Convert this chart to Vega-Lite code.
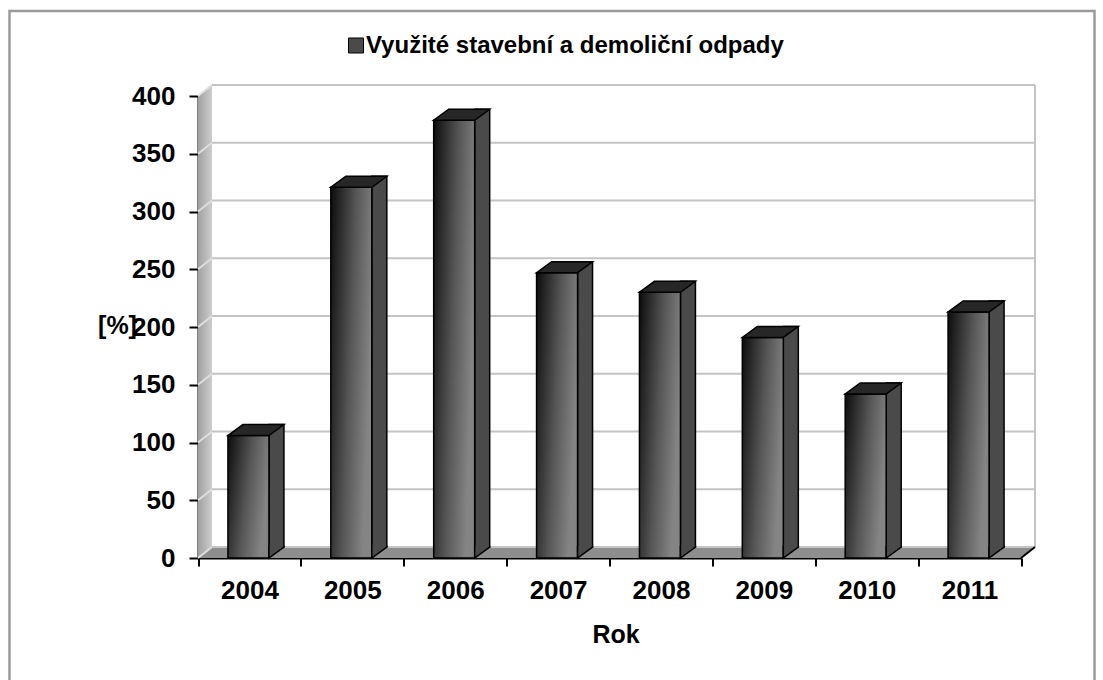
{
  "$schema": "https://vega.github.io/schema/vega-lite/v6.json",
  "width": 1085,
  "height": 671,
  "autosize": {"type": "none"},
  "padding": {"left": 9.5, "top": 11, "right": 8.5, "bottom": -2},
  "background": "white",
  "config": {
    "view": {"stroke": "#9a9a9a", "strokeWidth": 2.5},
    "font": "Liberation Sans",
    "axis": {
      "labelFont": "Liberation Sans",
      "labelFontSize": 26,
      "labelFontWeight": "bold",
      "labelColor": "black",
      "titleFont": "Liberation Sans",
      "titleFontSize": 25,
      "titleFontWeight": "bold",
      "titleColor": "black",
      "domainColor": "black",
      "domainWidth": 2,
      "tickColor": "black",
      "tickWidth": 2,
      "grid": false
    }
  },
  "datasets": {
    "recycled": [
      {"year": "2004", "value": 106},
      {"year": "2005", "value": 321},
      {"year": "2006", "value": 379},
      {"year": "2007", "value": 247},
      {"year": "2008", "value": 230},
      {"year": "2009", "value": 191},
      {"year": "2010", "value": 142},
      {"year": "2011", "value": 213}
    ],
    "levels": [
      {"level": 0}, {"level": 50}, {"level": 100}, {"level": 150}, {"level": 200},
      {"level": 250}, {"level": 300}, {"level": 350}, {"level": 400}
    ],
    "frame": [{"part": "walls"}]
  },
  "layer": [
    {
      "data": {"name": "frame"},
      "mark": {
        "type": "point",
        "shape": "M0,0 L0,-462 L14,-473 L14,-11 Z",
        "size": 4,
        "filled": true,
        "opacity": 1,
        "strokeWidth": 0,
        "fill": {"gradient": "linear", "x1": 0, "y1": 0, "x2": 1, "y2": 0,
                 "stops": [{"offset": 0, "color": "#a0a0a0"}, {"offset": 1, "color": "#cdcdcd"}]}
      },
      "encoding": {
        "x": {
          "datum": "2004", "type": "nominal", "bandPosition": 0,
          "scale": {
            "domain": ["2004", "2005", "2006", "2007", "2008", "2009", "2010", "2011"],
            "range": [188.5, 1011.5],
            "paddingInner": 0,
            "paddingOuter": 0
          },
          "axis": {
            "title": "Rok",
            "orient": "bottom",
            "offset": -124,
            "tickBand": "extent",
            "tickSize": 8,
            "labelPadding": 11,
            "labelAngle": 0,
            "titleX": 606,
            "titleY": 84,
            "titleAlign": "center",
            "titleBaseline": "alphabetic"
          }
        },
        "y": {
          "datum": 0, "type": "quantitative",
          "scale": {"domain": [0, 400], "range": [547, 85], "nice": false},
          "axis": {
            "title": "[%]",
            "orient": "left",
            "offset": -188.5,
            "values": [0, 50, 100, 150, 200, 250, 300, 350, 400],
            "tickSize": 9,
            "labelPadding": 14,
            "titleAngle": 0,
            "titleX": -81,
            "titleY": 314,
            "titleAlign": "center",
            "titleBaseline": "middle"
          }
        }
      }
    },
    {
      "data": {"name": "frame"},
      "mark": {"type": "point", "shape": "M0,0 L823,0 L837,-11 L14,-11 Z", "size": 4,
               "filled": true, "opacity": 1, "strokeWidth": 0, "fill": "#8e8e8e"},
      "encoding": {
        "x": {"datum": "2004", "type": "nominal", "bandPosition": 0},
        "y": {"datum": 0, "type": "quantitative"}
      }
    },
    {
      "data": {"name": "levels"},
      "mark": {"type": "point", "shape": "M0,0 L14,-11", "size": 4, "filled": false,
               "opacity": 1, "stroke": "#dedede", "strokeWidth": 2},
      "encoding": {
        "x": {"datum": "2004", "type": "nominal", "bandPosition": 0},
        "y": {"field": "level", "type": "quantitative"}
      }
    },
    {
      "data": {"name": "levels"},
      "mark": {"type": "point", "shape": "M14,-11 L837,-11", "size": 4, "filled": false,
               "opacity": 1, "stroke": "#c4c4c4", "strokeWidth": 2},
      "encoding": {
        "x": {"datum": "2004", "type": "nominal", "bandPosition": 0},
        "y": {"field": "level", "type": "quantitative"}
      }
    },
    {
      "data": {"name": "frame"},
      "mark": {"type": "point", "shape": "M837,-11 L837,-473", "size": 4, "filled": false,
               "opacity": 1, "stroke": "#c4c4c4", "strokeWidth": 2},
      "encoding": {
        "x": {"datum": "2004", "type": "nominal", "bandPosition": 0},
        "y": {"datum": 0, "type": "quantitative"}
      }
    },
    {
      "data": {"name": "frame"},
      "mark": {"type": "point", "shape": "M823,0 L837,-11", "size": 4, "filled": false,
               "opacity": 1, "stroke": "black", "strokeWidth": 2},
      "encoding": {
        "x": {"datum": "2004", "type": "nominal", "bandPosition": 0},
        "y": {"datum": 0, "type": "quantitative"}
      }
    },
    {
      "data": {"name": "recycled"},
      "mark": {"type": "bar", "width": 15, "xOffset": 27, "yOffset": -11, "y2Offset": -11,
               "fill": "#4a4a4a", "stroke": "black", "strokeWidth": 1.5},
      "encoding": {
        "x": {"field": "year", "type": "nominal"},
        "y": {"field": "value", "type": "quantitative"},
        "y2": {"datum": 0}
      }
    },
    {
      "data": {"name": "recycled"},
      "mark": {
        "type": "bar", "width": 41, "xOffset": -1, "stroke": "black", "strokeWidth": 1.5,
        "fill": {"gradient": "linear", "x1": 0, "y1": 0, "x2": 1, "y2": 0.35,
                 "stops": [{"offset": 0, "color": "#0c0c0c"}, {"offset": 0.55, "color": "#555555"}, {"offset": 1, "color": "#848484"}]}
      },
      "encoding": {
        "x": {"field": "year", "type": "nominal"},
        "y": {"field": "value", "type": "quantitative"},
        "y2": {"datum": 0}
      }
    },
    {
      "data": {"name": "recycled"},
      "mark": {"type": "point", "shape": "M-21.5,0 L19.5,0 L34.5,-11 L-6.5,-11 Z", "size": 4,
               "filled": true, "opacity": 1, "fill": "#272727", "stroke": "black", "strokeWidth": 1.5},
      "encoding": {
        "x": {"field": "year", "type": "nominal"},
        "y": {"field": "value", "type": "quantitative"}
      }
    },
    {
      "data": {"name": "recycled"},
      "mark": {"type": "point", "shape": "M19.5,-12.5 L19.5,0 L34.5,-11 L34.5,-12.5", "size": 4,
               "filled": true, "opacity": 1, "stroke": "black", "strokeWidth": 1.5},
      "encoding": {
        "x": {"field": "year", "type": "nominal"},
        "y": {"datum": 0, "type": "quantitative"},
        "color": {
          "datum": "Využité stavební a demoliční odpady",
          "type": "nominal",
          "scale": {"domain": ["Využité stavební a demoliční odpady"], "range": ["#4a4a4a"]},
          "legend": {
            "title": null,
            "orient": "none",
            "legendX": 334.5,
            "legendY": 22.5,
            "padding": 0,
            "symbolType": "square",
            "symbolSize": 225,
            "symbolStrokeColor": "black",
            "symbolStrokeWidth": 1,
            "labelFont": "Liberation Sans",
            "labelFontSize": 24,
            "labelFontWeight": "bold",
            "labelColor": "black",
            "labelOffset": -2,
            "labelLimit": 1000,
            "encode": {
              "symbols": {
                "update": {
                  "fill": {"value": {"gradient": "linear", "x1": 0, "y1": 0, "x2": 1, "y2": 1,
                                     "stops": [{"offset": 0, "color": "#111111"}, {"offset": 1, "color": "#8a8a8a"}]}},
                  "stroke": {"value": "black"},
                  "opacity": {"value": 1}
                }
              }
            }
          }
        }
      }
    }
  ]
}
